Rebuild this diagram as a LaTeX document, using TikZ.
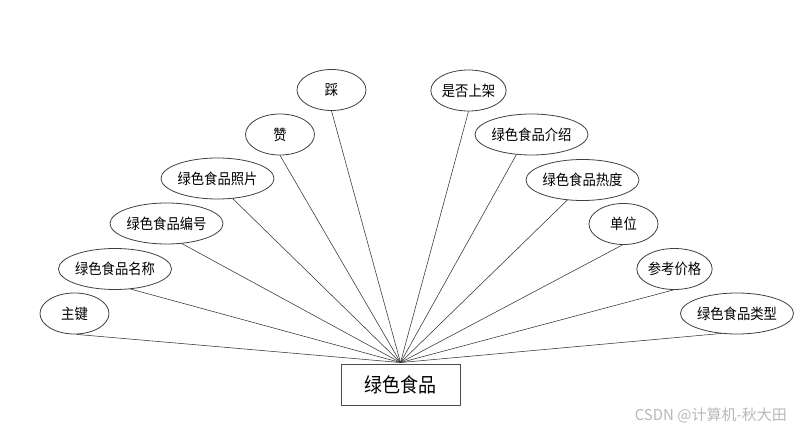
\documentclass[tikz,border=0pt]{standalone}
\usepackage{fontspec}
\usetikzlibrary{shapes.geometric,calc}
\newfontfamily\cjk[FakeStretch=0.9]{Noto Sans CJK SC}
\newfontfamily\cjkw{Noto Sans CJK SC}
\tikzset{
  attr/.style={ellipse, draw=black!75, line width=0.8pt, inner sep=0pt,
    minimum height=41pt, font=\cjk\fontsize{14.8}{16}\selectfont},
  attrs/.style={attr, minimum width=69pt},
  attrl/.style={attr, minimum width=91pt},
  entity/.style={rectangle, draw=black!70, line width=0.9pt, minimum width=119pt,
    minimum height=41pt, inner sep=0pt, font=\cjk\fontsize{20}{22}\selectfont},
  link/.style={draw=black!80, line width=0.55pt}
}
\begin{document}
\begin{tikzpicture}[x=1pt,y=-1pt]
\useasboundingbox (0,0) rectangle (800,430);
\node[entity] (main) at (400.5,384.5) {绿色食品};
\node[attrs] (a1) at (74.5,313.5) {主键};
\node[attrl] (a2) at (115,269) {绿色食品名称};
\node[attrl] (a3) at (166.5,223.5) {绿色食品编号};
\node[attrl] (a4) at (217.5,178.5) {绿色食品照片};
\node[attrs] (a5) at (280,134.5) {赞};
\node[attrs] (a6) at (331.5,90) {踩};
\node[attrs] (a7) at (468.5,90.5) {是否上架};
\node[attrl] (a8) at (531.5,134.5) {绿色食品介绍};
\node[attrl] (a9) at (582.5,180) {绿色食品热度};
\node[attrs] (a10) at (623.5,224) {单位};
\node[attrs] (a11) at (674.5,269) {参考价格};
\node[attrl, minimum width=92pt] (a12) at (737,313.5) {绿色食品类型};
\coordinate (hub) at ($(main.north)+(0,-1)$);
\draw[link] ($(a1.south)+(2,0)$) -- (hub);
\draw[link] ($(a2.south)+(15,-1)$) -- (hub);
\draw[link] ($(a3.south)+(15,-1)$) -- (hub);
\draw[link] ($(a4.south)+(15,-1)$) -- (hub);
\draw[link] (a5.south) -- (hub);
\draw[link] (a6.south) -- (hub);
\draw[link] (a7.south) -- (hub);
\draw[link] ($(a8.south)+(-15,-1)$) -- (hub);
\draw[link] ($(a9.south)+(-15,-1)$) -- (hub);
\draw[link] ($(a10.south)+(-1,0)$) -- (hub);
\draw[link] ($(a11.south)+(-1,0)$) -- (hub);
\draw[link] ($(a12.south)+(-15,-1)$) -- (hub);
\node[anchor=east, text=black!28, inner sep=0pt, font=\cjkw\fontsize{15}{17}\selectfont] (wm) at (787,415) {CSDN @计算机-秋大田};
\end{tikzpicture}
\end{document}
